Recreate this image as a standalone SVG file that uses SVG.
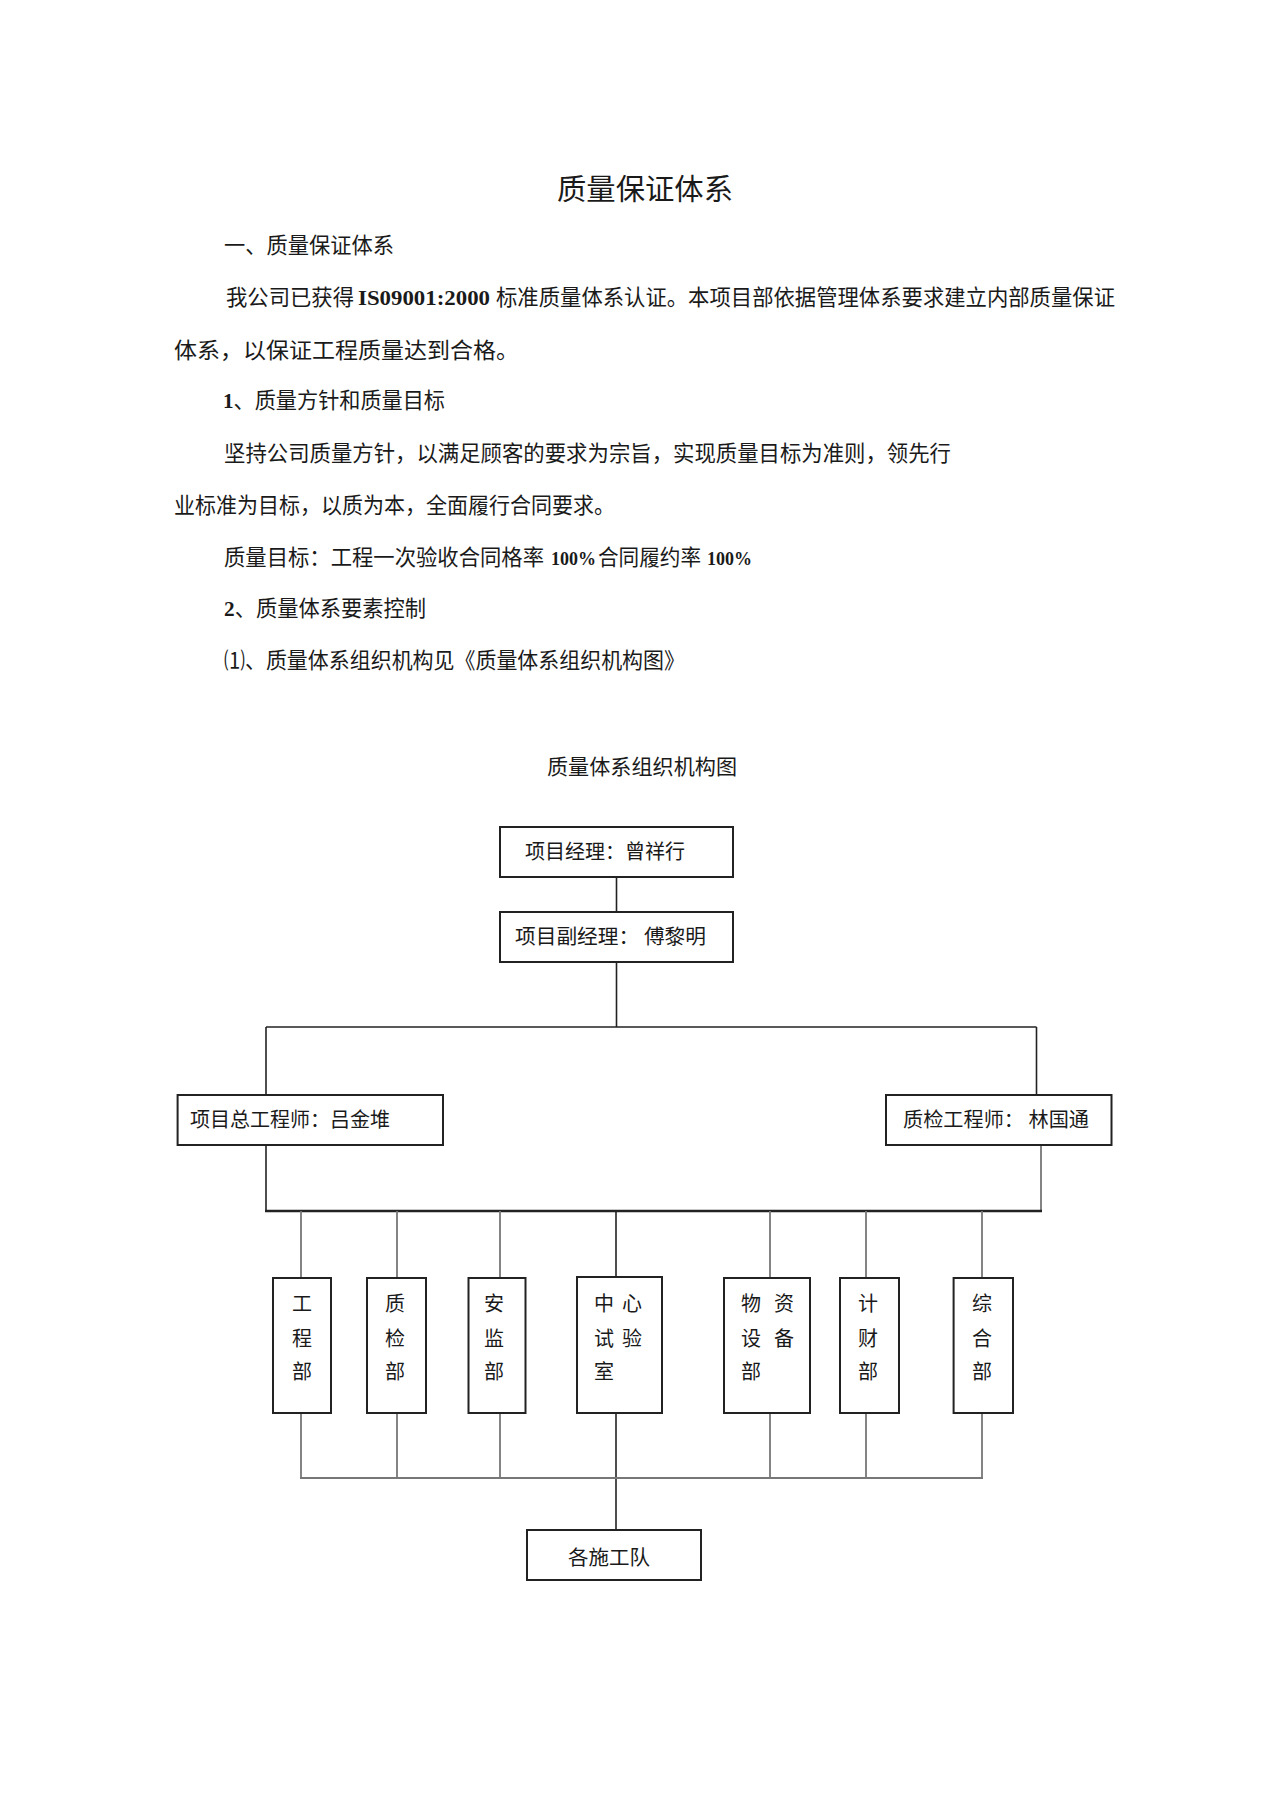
<svg xmlns="http://www.w3.org/2000/svg" width="1274" height="1804" viewBox="0 0 1274 1804">
<style>
text{font-family:"Noto Sans CJK SC","Liberation Serif",sans-serif;fill:#1a1a1a}
.b{font-size:22px}
.h{font-size:29px}
.bx{font-size:20px}
.d{font-size:20px;text-anchor:middle}
.bold{font-weight:bold;font-family:"Liberation Serif","Noto Sans CJK SC",serif}
rect{fill:#fff;stroke:#222;stroke-width:2}
.c line{stroke:#222;stroke-width:1.6}
.c line.g{stroke:#777;stroke-width:1.8}
</style>
<rect x="0" y="0" width="1274" height="1804" style="fill:#fff;stroke:none"/>
<g id="text-body">
<text class="h" x="557" y="200" textLength="176" lengthAdjust="spacingAndGlyphs">质量保证体系</text>
<text class="b" x="224" y="253" textLength="170" lengthAdjust="spacingAndGlyphs">一、质量保证体系</text>
<text class="b" x="226" y="305" textLength="128" lengthAdjust="spacingAndGlyphs">我公司已获得</text>
<text class="b bold" x="358" y="305" textLength="132" lengthAdjust="spacingAndGlyphs">IS09001:2000</text>
<text class="b" x="496" y="305" textLength="619" lengthAdjust="spacingAndGlyphs">标准质量体系认证。本项目部依据管理体系要求建立内部质量保证</text>
<text class="b" x="174" y="358" textLength="345" lengthAdjust="spacingAndGlyphs">体系，以保证工程质量达到合格。</text>
<text class="b" x="223" y="408" textLength="222" lengthAdjust="spacingAndGlyphs"><tspan class="bold">1</tspan>、质量方针和质量目标</text>
<text class="b" x="224" y="461" textLength="727" lengthAdjust="spacingAndGlyphs">坚持公司质量方针，以满足顾客的要求为宗旨，实现质量目标为准则，领先行</text>
<text class="b" x="174" y="513" textLength="441" lengthAdjust="spacingAndGlyphs">业标准为目标，以质为本，全面履行合同要求。</text>
<text class="b" x="224" y="565" textLength="320" lengthAdjust="spacingAndGlyphs">质量目标：工程一次验收合同格率</text>
<text class="bold" x="551" y="565" style="font-size:18px">100%</text>
<text class="b" x="598" y="565" textLength="103" lengthAdjust="spacingAndGlyphs">合同履约率</text>
<text class="bold" x="707" y="565" style="font-size:18px">100%</text>
<text class="b" x="224" y="616" textLength="202" lengthAdjust="spacingAndGlyphs"><tspan class="bold">2</tspan>、质量体系要素控制</text>
<text class="b" x="224" y="668" textLength="461" lengthAdjust="spacingAndGlyphs">⑴、质量体系组织机构见《质量体系组织机构图》</text>
<text class="b" x="547" y="774" textLength="190" lengthAdjust="spacingAndGlyphs" style="font-size:21px">质量体系组织机构图</text>
</g>
<g id="connectors" class="c">
<line x1="616.5" y1="877" x2="616.5" y2="912"/>
<line x1="616.5" y1="962" x2="616.5" y2="1027"/>
<line x1="266" y1="1027" x2="1036.5" y2="1027"/>
<line x1="266" y1="1027" x2="266" y2="1095"/>
<line x1="1036.5" y1="1027" x2="1036.5" y2="1095"/>
<line x1="266" y1="1145" x2="266" y2="1211"/>
<line x1="1041" y1="1145" x2="1041" y2="1211" class="g"/>
<line x1="265" y1="1211" x2="1042" y2="1211" style="stroke-width:2.6"/>
<line class="g" x1="301" y1="1211" x2="301" y2="1278"/>
<line class="g" x1="397" y1="1211" x2="397" y2="1278"/>
<line class="g" x1="500" y1="1211" x2="500" y2="1278"/>
<line x1="616" y1="1211" x2="616" y2="1277"/>
<line class="g" x1="770" y1="1211" x2="770" y2="1278"/>
<line class="g" x1="866" y1="1211" x2="866" y2="1278"/>
<line class="g" x1="982" y1="1211" x2="982" y2="1278"/>
<line class="g" x1="301" y1="1413" x2="301" y2="1478"/>
<line class="g" x1="397" y1="1413" x2="397" y2="1478"/>
<line class="g" x1="500" y1="1413" x2="500" y2="1478"/>
<line x1="616" y1="1413" x2="616" y2="1530"/>
<line class="g" x1="770" y1="1413" x2="770" y2="1478"/>
<line class="g" x1="866" y1="1413" x2="866" y2="1478"/>
<line class="g" x1="982" y1="1413" x2="982" y2="1478"/>
<line class="g" x1="300" y1="1478" x2="983" y2="1478"/>
</g>
<g id="n-manager"><rect x="500" y="827" width="233" height="50"/><text class="bx" x="525" y="859" textLength="160" lengthAdjust="spacingAndGlyphs">项目经理：曾祥行</text></g>
<g id="n-deputy"><rect x="500" y="912" width="233" height="50"/><text class="bx" x="515" y="944" textLength="191" lengthAdjust="spacingAndGlyphs">项目副经理：  傅黎明</text></g>
<g id="n-chief"><rect x="177.6" y="1095" width="265.4" height="50"/><text class="bx" x="190" y="1127" textLength="200" lengthAdjust="spacingAndGlyphs">项目总工程师：吕金堆</text></g>
<g id="n-qc"><rect x="886" y="1095" width="225.5" height="50"/><text class="bx" x="903" y="1127" textLength="186" lengthAdjust="spacingAndGlyphs">质检工程师：  林国通</text></g>
<g id="n-eng"><rect x="273" y="1278" width="58" height="135"/><text class="d" x="302" y="1311">工</text><text class="d" x="302" y="1346">程</text><text class="d" x="302" y="1379">部</text></g>
<g id="n-qcd"><rect x="367" y="1278" width="59" height="135"/><text class="d" x="395" y="1311">质</text><text class="d" x="395" y="1346">检</text><text class="d" x="395" y="1379">部</text></g>
<g id="n-safe"><rect x="468.5" y="1278" width="57" height="135"/><text class="d" x="494" y="1311">安</text><text class="d" x="494" y="1346">监</text><text class="d" x="494" y="1379">部</text></g>
<g id="n-lab"><rect x="577" y="1277" width="85" height="136"/><text class="d" x="604" y="1311">中</text><text class="d" x="632" y="1311">心</text><text class="d" x="604" y="1346">试</text><text class="d" x="632" y="1346">验</text><text class="d" x="604" y="1379">室</text></g>
<g id="n-mat"><rect x="724" y="1278" width="86" height="135"/><text class="d" x="751" y="1311">物</text><text class="d" x="784" y="1311">资</text><text class="d" x="751" y="1346">设</text><text class="d" x="784" y="1346">备</text><text class="d" x="751" y="1379">部</text></g>
<g id="n-fin"><rect x="840" y="1278" width="59" height="135"/><text class="d" x="868" y="1311">计</text><text class="d" x="868" y="1346">财</text><text class="d" x="868" y="1379">部</text></g>
<g id="n-gen"><rect x="953.6" y="1278" width="59.4" height="135"/><text class="d" x="982" y="1311">综</text><text class="d" x="982" y="1346">合</text><text class="d" x="982" y="1379">部</text></g>
<g id="n-teams"><rect x="527" y="1530" width="174" height="50"/><text class="bx" x="568" y="1565" textLength="82" lengthAdjust="spacingAndGlyphs">各施工队</text></g>
</svg>
